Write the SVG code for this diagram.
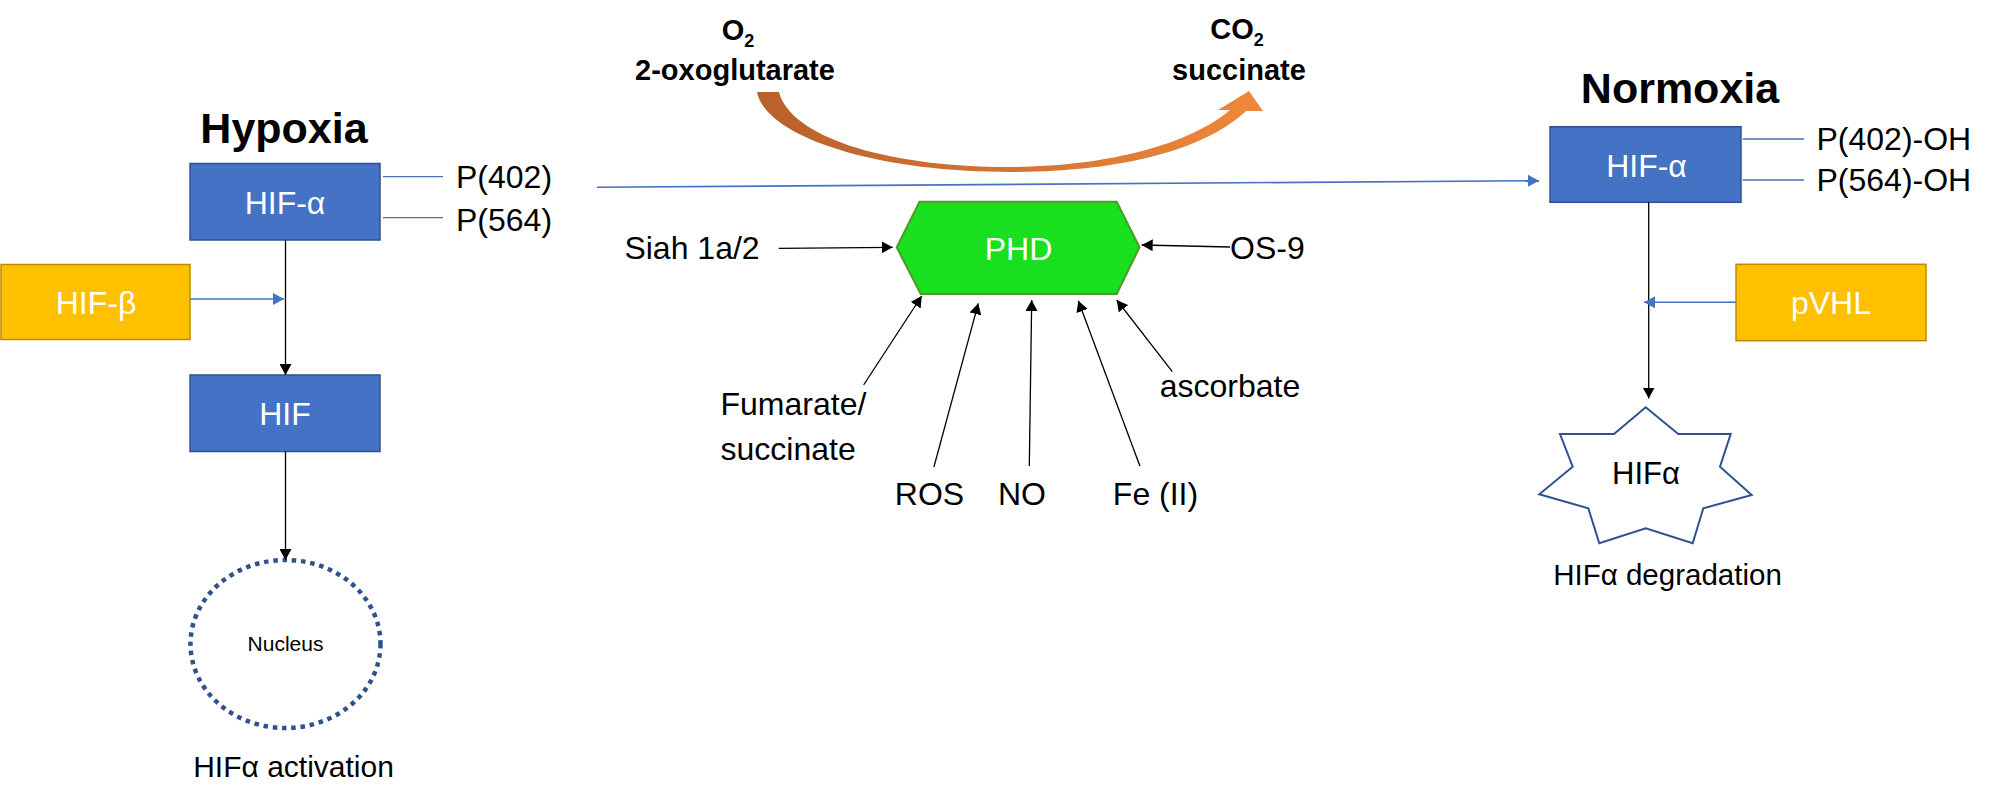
<svg xmlns="http://www.w3.org/2000/svg" width="2000" height="807" viewBox="0 0 2000 807">
  <style>
    text { font-family: "Liberation Sans", Arial, sans-serif; fill: #000; }
    .title { font-size: 43px; font-weight: bold; text-anchor: middle; }
    .bold { font-size: 29px; font-weight: bold; text-anchor: middle; }
    .lbl { font-size: 32px; }
    .mid { text-anchor: middle; }
    .wt { fill: #fff; font-size: 32px; text-anchor: middle; }
    .blue { fill: #4472C4; stroke: #2F528F; stroke-width: 1.5; }
    .gold { fill: #FFC000; stroke: #BC8C00; stroke-width: 1.5; }
    .tick { stroke: #4A6FB5; stroke-width: 1.3; fill: none; }
    .ca { stroke: #000; stroke-width: 1.3; fill: none; marker-end: url(#ab); }
    .cb { stroke: #4472C4; stroke-width: 1.6; fill: none; marker-end: url(#abl); }
  </style>
  <defs>
    <marker id="ab" markerWidth="12" markerHeight="12" refX="11" refY="6" orient="auto" markerUnits="userSpaceOnUse">
      <path d="M0,0 L11,6 L0,12 Z" fill="#000"/>
    </marker>
    <marker id="abl" markerWidth="12" markerHeight="12" refX="11" refY="6" orient="auto" markerUnits="userSpaceOnUse">
      <path d="M0,0 L11,6 L0,12 Z" fill="#4472C4"/>
    </marker>
    <linearGradient id="og" gradientUnits="userSpaceOnUse" x1="757" y1="0" x2="1265" y2="0">
      <stop offset="0" stop-color="#B8602C"/>
      <stop offset="1" stop-color="#F0883A"/>
    </linearGradient>
  </defs>

  <!-- titles -->
  <text class="title" x="284" y="143">Hypoxia</text>
  <text class="title" x="1680" y="103">Normoxia</text>

  <!-- Hypoxia side -->
  <g id="hif-alpha-hyp">
    <rect class="blue" x="190" y="163.5" width="190" height="76.5"/>
    <text class="wt" x="285" y="214">HIF-α</text>
  </g>
  <g id="p-hyp">
    <line class="tick" x1="383" y1="176.7" x2="443" y2="176.7"/>
    <line class="tick" x1="383" y1="217.7" x2="443" y2="217.7"/>
    <text class="lbl" x="456" y="188">P(402)</text>
    <text class="lbl" x="456" y="231">P(564)</text>
  </g>
  <g id="hif-beta">
    <rect class="gold" x="1" y="264.5" width="189" height="75"/>
    <text class="wt" x="96" y="314">HIF-β</text>
  </g>
  <g id="hif">
    <rect class="blue" x="190" y="375" width="190" height="76.5"/>
    <text class="wt" x="285" y="425">HIF</text>
  </g>
  <g id="nucleus">
    <ellipse cx="285.5" cy="644" rx="95" ry="84" fill="none" stroke="#2F528F" stroke-width="4.5" stroke-dasharray="4.5 4.8"/>
    <text x="285.5" y="651" class="mid" font-size="21">Nucleus</text>
  </g>
  <text x="293.5" y="777" class="mid" font-size="30">HIFα activation</text>

  <!-- Top substrates -->
  <g id="substrates">
    <text class="bold" x="738" y="40">O<tspan font-size="18" dy="7">2</tspan></text>
    <text class="bold" x="735" y="80">2-oxoglutarate</text>
    <text class="bold" x="1237" y="39">CO<tspan font-size="18" dy="7">2</tspan></text>
    <text class="bold" x="1239" y="80">succinate</text>
  </g>
  <g id="curved-arrow">
    <path d="M757,92 C765,135 870,172 1010,172 C1120,172 1205,150 1246,111 L1263,111 L1249,91 L1218,110 L1230,110 C1195,140 1120,166 1010,167 C880,167 790,135 779,92 Z" fill="url(#og)"/>
  </g>

  <!-- PHD -->
  <g id="phd">
    <polygon points="919.5,201.7 1116.7,201.7 1139.5,247.3 1116.7,294 920.7,294 896.7,247.3" fill="#19E01F" stroke="#4C9A2A" stroke-width="2"/>
    <text class="wt" x="1018.5" y="260" font-size="31">PHD</text>
  </g>
  <g id="phd-labels">
    <text class="lbl mid" x="692" y="259">Siah 1a/2</text>
    <text class="lbl" x="1230" y="259">OS-9</text>
    <text class="lbl" x="720.5" y="415">Fumarate/</text>
    <text class="lbl" x="720.5" y="460">succinate</text>
    <text class="lbl mid" x="929.5" y="505">ROS</text>
    <text class="lbl mid" x="1022" y="505">NO</text>
    <text class="lbl mid" x="1155.5" y="505">Fe (II)</text>
    <text class="lbl mid" x="1230" y="397">ascorbate</text>
  </g>

  <!-- Normoxia side -->
  <g id="hif-alpha-norm">
    <rect class="blue" x="1550" y="126.7" width="191" height="75.6"/>
    <text class="wt" x="1646.5" y="176.5">HIF-α</text>
  </g>
  <g id="p-norm">
    <line class="tick" x1="1742.7" y1="139" x2="1804" y2="139"/>
    <line class="tick" x1="1742.7" y1="180" x2="1804" y2="180"/>
    <text class="lbl" x="1816.5" y="150">P(402)-OH</text>
    <text class="lbl" x="1816.5" y="191">P(564)-OH</text>
  </g>
  <g id="pvhl">
    <rect class="gold" x="1736" y="264.3" width="190" height="76.4"/>
    <text class="wt" x="1831" y="314">pVHL</text>
  </g>
  <g id="hif-alpha-star">
    <polygon points="1560,434 1614,434 1645.7,407.3 1678.3,434 1730.7,434 1720,466.7 1751.7,495 1703.3,508.3 1692.7,543.3 1645.7,528.3 1599.3,543.3 1588.3,508.3 1539.3,494.3 1572.7,466.7" fill="#fff" stroke="#2F528F" stroke-width="2"/>
    <text x="1646" y="483.5" class="mid" font-size="31">HIFα</text>
  </g>
  <text x="1667.5" y="585" class="mid" font-size="29.5">HIFα degradation</text>

  <!-- connectors -->
  <g id="connectors">
    <line class="ca" x1="285.5" y1="240" x2="285.5" y2="375"/>
    <line class="cb" x1="190" y1="299" x2="284" y2="299"/>
    <line class="ca" x1="285.5" y1="451.5" x2="285.5" y2="560"/>
    <line class="cb" x1="597" y1="187.3" x2="1539" y2="180.7"/>
    <line class="ca" x1="1648.7" y1="202.3" x2="1648.7" y2="398.5"/>
    <line class="cb" x1="1736" y1="302.3" x2="1644" y2="302.3"/>
    <line class="ca" x1="778.7" y1="248.3" x2="892.7" y2="247.3"/>
    <line class="ca" x1="1230" y1="247" x2="1141.7" y2="245"/>
    <line class="ca" x1="863.6" y1="385" x2="921.7" y2="296"/>
    <line class="ca" x1="933.9" y1="467" x2="978.3" y2="303.3"/>
    <line class="ca" x1="1029.3" y1="466" x2="1031.7" y2="300"/>
    <line class="ca" x1="1139.9" y1="466" x2="1078.3" y2="300.7"/>
    <line class="ca" x1="1172.3" y1="371.7" x2="1116.7" y2="300"/>
  </g>
</svg>
